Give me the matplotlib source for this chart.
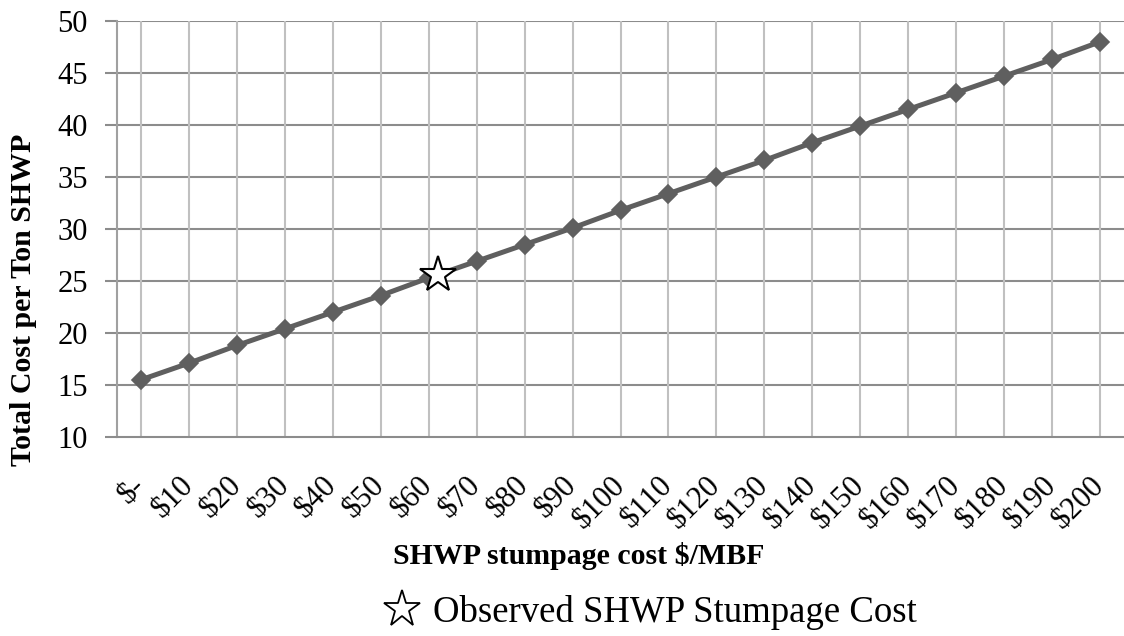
import numpy as np
import matplotlib.pyplot as plt
from matplotlib.lines import Line2D

# stumpage cost categories ($/MBF) and total cost per ton
stumpage = ["$-", "$10", "$20", "$30", "$40", "$50", "$60", "$70", "$80", "$90", "$100",
            "$110", "$120", "$130", "$140", "$150", "$160", "$170", "$180", "$190", "$200"]
total_cost = [15.5, 17.1, 18.8, 20.4, 22.0, 23.6, 25.3, 26.9, 28.5, 30.1, 31.8,
              33.4, 35.0, 36.6, 38.3, 39.9, 41.5, 43.1, 44.7, 46.3, 48.0]

# observed stumpage point (category position, cost)
observed_pos = 6.2
observed_cost = 25.6

plt.rcParams["font.family"] = "Liberation Serif"

fig = plt.figure(figsize=(11.24, 6.36), dpi=100)
ax = fig.add_axes([117 / 1124, 1 - 437 / 636, 1 - 117 / 1124, (437 - 21) / 636])

xx = np.arange(len(stumpage))
ax.plot(xx, total_cost, color="#5f5f5f", lw=3.6, marker="D", ms=9.5,
        mfc="#5f5f5f", mec="#5f5f5f", mew=1.2, zorder=3, clip_on=False)
ax.plot([observed_pos], [observed_cost], linestyle="none", marker="*", ms=27,
        mfc="white", mec="black", mew=1.5, zorder=4)

ax.set_xlim(-0.5, 20.5)
ax.set_ylim(10, 50)
ax.set_yticks(range(10, 51, 5))
ax.set_xticks(xx)
ax.set_xticklabels(stumpage, rotation=45, ha="right", va="center",
                   rotation_mode="anchor", fontsize=22)
ax.tick_params(axis="x", length=0, pad=32)
ax.tick_params(axis="y", length=9, width=1.5, color="#8c8c8c", pad=12, labelsize=22)

# gridlines: darker horizontals, lighter verticals
for y in range(15, 51, 5):
    ax.axhline(y, color="#8c8c8c", lw=1.5, zorder=1)
for x in xx:
    ax.axvline(x, color="#c0c0c0", lw=1.5, zorder=1)

for side in ["top", "right"]:
    ax.spines[side].set_visible(False)
ax.spines["left"].set_color("#a0a0a0")
ax.spines["left"].set_linewidth(1.5)
ax.spines["bottom"].set_color("#8c8c8c")
ax.spines["bottom"].set_linewidth(1.5)

fig.text(24 / 1124, 1 - 300 / 636, "Total Cost per Ton SHWP", rotation=90,
         ha="center", va="center", fontsize=21.5, fontweight="bold")
fig.text(579 / 1124, 1 - 556 / 636, "SHWP stumpage cost $/MBF",
         ha="center", va="center", fontsize=21.5, fontweight="bold")

star_handle = Line2D([], [], linestyle="none", marker="*", ms=28,
                     mfc="white", mec="black", mew=1.3)
fig.legend([star_handle], ["Observed SHWP Stumpage Cost"], loc="center",
           bbox_to_anchor=(649 / 1124, 1 - 612 / 636), frameon=False,
           fontsize=26.5, handletextpad=0.3, handlelength=1.1)

fig.savefig("out.png", dpi=100)
